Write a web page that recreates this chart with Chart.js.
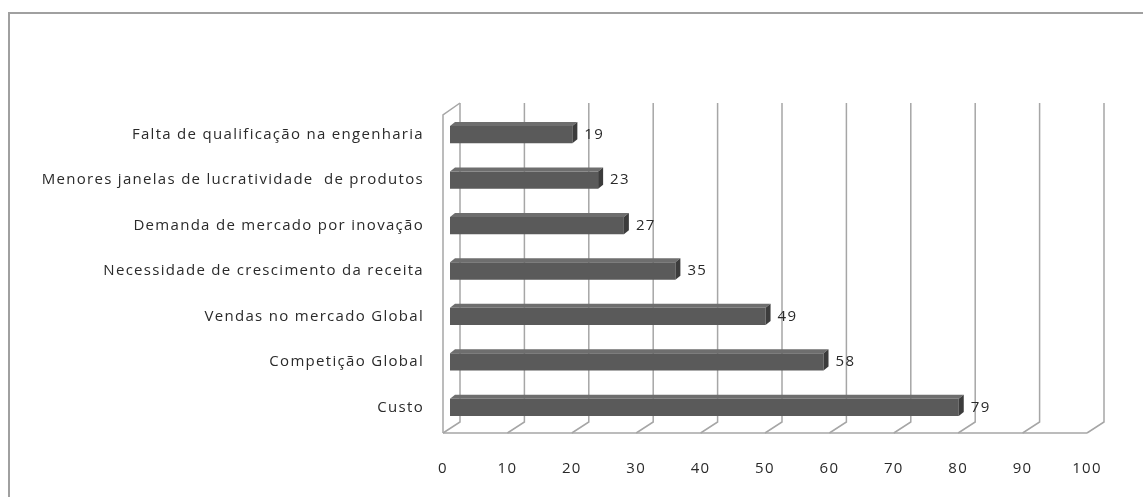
<!DOCTYPE html>
<html>
<head>
<meta charset="utf-8">
<script src="https://cdn.jsdelivr.net/npm/chart.js@4.4.1/dist/chart.umd.min.js"></script>
<style>
  html, body { margin: 0; padding: 0; background: #fff; }
  #wrap { width: 1143px; height: 497px; position: relative; }
</style>
</head>
<body>
<div id="wrap"><canvas id="chart"></canvas></div>
<script>
const categories = [
  "Falta de qualificação na engenharia",
  "Menores janelas de lucratividade  de produtos",
  "Demanda de mercado por inovação",
  "Necessidade de crescimento da receita",
  "Vendas no mercado Global",
  "Competição Global",
  "Custo"
];
const values = [19, 23, 27, 35, 49, 58, 79];
const xTicks = [0, 10, 20, 30, 40, 50, 60, 70, 80, 90, 100];

const FONT = "'Open Sans', sans-serif";
const GRID = "#a6a6a6";
const TEXT = "#2a2a2a";

// wider text spacing, closer to the original rendering
const spacing = {
  id: "spacing",
  beforeDraw(chart) { chart.ctx.letterSpacing = "1.3px"; }
};

// 3D box: back wall, left wall, floor, frame
const boxPlugin = {
  id: "box3d",
  beforeDatasetsDraw(chart) {
    const ctx = chart.ctx;
    const xs = chart.scales.x;
    const backTop = 103, backBot = 422, floorY = 433;
    const dxBack = 10, dxFront = -7;
    ctx.save();
    ctx.strokeStyle = GRID;
    ctx.lineWidth = 1.5;
    xTicks.forEach(v => {
      const p = xs.getPixelForValue(v);
      ctx.beginPath();
      ctx.moveTo(p + dxBack, backTop);
      ctx.lineTo(p + dxBack, backBot);
      ctx.lineTo(p + dxFront, floorY);
      ctx.stroke();
    });
    // floor front edge
    ctx.beginPath();
    ctx.moveTo(xs.getPixelForValue(0) + dxFront, floorY);
    ctx.lineTo(xs.getPixelForValue(100) + dxFront, floorY);
    ctx.stroke();
    // left wall
    ctx.beginPath();
    ctx.moveTo(xs.getPixelForValue(0) + dxFront, floorY);
    ctx.lineTo(xs.getPixelForValue(0) + dxFront, 115);
    ctx.lineTo(xs.getPixelForValue(0) + dxBack, backTop);
    ctx.stroke();
    ctx.restore();
  },
  afterDraw(chart) {
    const ctx = chart.ctx;
    ctx.save();
    ctx.strokeStyle = "#a0a0a0";
    ctx.lineWidth = 2;
    ctx.beginPath();
    ctx.moveTo(9, 497);
    ctx.lineTo(9, 13);
    ctx.lineTo(1143, 13);
    ctx.stroke();
    ctx.restore();
  }
};

// top and side faces of each bar, plus value labels
const barFaces = {
  id: "barFaces",
  afterDatasetsDraw(chart) {
    const ctx = chart.ctx;
    const meta = chart.getDatasetMeta(0);
    const d = 5, e = 4;
    ctx.save();
    meta.data.forEach((bar, i) => {
      const top = bar.y - bar.height / 2;
      const bot = bar.y + bar.height / 2;
      ctx.fillStyle = "#6e6e6e";
      ctx.beginPath();
      ctx.moveTo(bar.base, top);
      ctx.lineTo(bar.base + d, top - e);
      ctx.lineTo(bar.x + d, top - e);
      ctx.lineTo(bar.x, top);
      ctx.closePath();
      ctx.fill();
      ctx.fillStyle = "#3c3c3c";
      ctx.beginPath();
      ctx.moveTo(bar.x, top);
      ctx.lineTo(bar.x + d, top - e);
      ctx.lineTo(bar.x + d, bot - e);
      ctx.lineTo(bar.x, bot);
      ctx.closePath();
      ctx.fill();
      ctx.fillStyle = TEXT;
      ctx.font = "15px " + FONT;
      ctx.textAlign = "left";
      ctx.textBaseline = "middle";
      ctx.fillText(String(values[i]), bar.x + d + 7, bar.y);
    });
    ctx.restore();
  }
};

new Chart(document.getElementById("chart"), {
  type: "bar",
  data: {
    labels: categories,
    datasets: [{
      data: values,
      backgroundColor: "#5a5a5a",
      borderWidth: 0,
      barPercentage: 0.38,
      categoryPercentage: 1
    }]
  },
  options: {
    indexAxis: "y",
    responsive: true,
    maintainAspectRatio: false,
    animation: false,
    layout: { padding: { top: 112, right: 49, left: 0, bottom: 0 } },
    plugins: { legend: { display: false }, tooltip: { enabled: false } },
    scales: {
      x: {
        min: 0, max: 100,
        ticks: { stepSize: 10, color: TEXT, font: { family: FONT, size: 15 }, labelOffset: -7, padding: 22 },
        grid: { display: false },
        border: { display: false },
        afterFit(s) { s.height = 67; }
      },
      y: {
        ticks: { color: TEXT, font: { family: FONT, size: 15 }, padding: 18 },
        grid: { display: false },
        border: { display: false },
        afterFit(s) { s.width = 450; }
      }
    }
  },
  plugins: [spacing, boxPlugin, barFaces]
});
</script>
</body>
</html>
